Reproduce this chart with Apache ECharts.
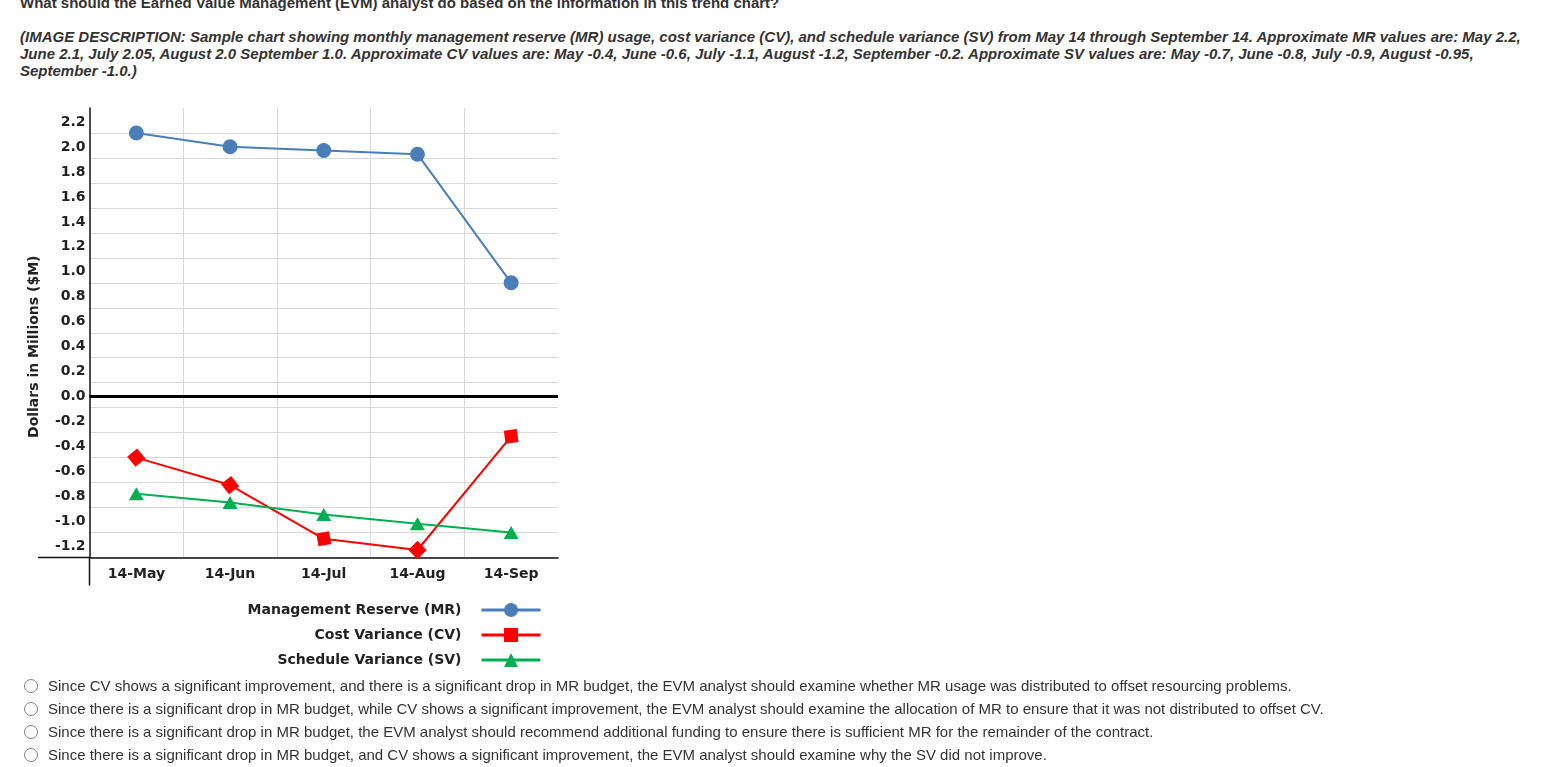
<!DOCTYPE html>
<html>
<head>
<meta charset="utf-8">
<title>EVM trend chart</title>
<script src="https://cdn.jsdelivr.net/npm/echarts@6/dist/echarts.min.js"></script>
<style>
    html, body { margin: 0; padding: 0; background: #fff; }
    body { width: 1561px; height: 767px; position: relative; overflow: hidden;
           font-family: "Liberation Sans", Arial, sans-serif; color: #333; }
    .q { position: absolute; left: 20px; top: -6px; font-size: 15px; line-height: 17px; font-weight: bold; white-space: nowrap; }
    .desc { position: absolute; left: 20px; top: 28px; font-size: 15px; line-height: 17px; font-weight: bold; font-style: italic; white-space: nowrap; }
    #chart { position: absolute; left: 0; top: 95px; width: 600px; height: 590px; }
    .opts { position: absolute; left: 0; top: 674px; }
    .opt { position: relative; height: 23px; line-height: 23px; font-size: 15px; white-space: nowrap; }
    .opt .dot { position: absolute; left: 24px; top: 5px; width: 12px; height: 12px; border: 1px solid #808080; border-radius: 50%; background: #fff; }
    .opt .txt { position: absolute; left: 48px; top: 0; }
</style>
</head>
<body>
<div class="q">What should the Earned Value Management (EVM) analyst do based on the information in this trend chart?</div>
<div class="desc">(IMAGE DESCRIPTION: Sample chart showing monthly management reserve (MR) usage, cost variance (CV), and schedule variance (SV) from May 14 through September 14. Approximate MR values are: May 2.2,<br>June 2.1, July 2.05, August 2.0 September 1.0. Approximate CV values are: May -0.4, June -0.6, July -1.1, August -1.2, September -0.2. Approximate SV values are: May -0.7, June -0.8, July -0.9, August -0.95,<br>September -1.0.)</div>
<div id="chart"></div>
<div class="opts">
    <div class="opt"><span class="dot"></span><span class="txt">Since CV shows a significant improvement, and there is a significant drop in MR budget, the EVM analyst should examine whether MR usage was distributed to offset resourcing problems.</span></div>
    <div class="opt"><span class="dot"></span><span class="txt">Since there is a significant drop in MR budget, while CV shows a significant improvement, the EVM analyst should examine the allocation of MR to ensure that it was not distributed to offset CV.</span></div>
    <div class="opt"><span class="dot"></span><span class="txt">Since there is a significant drop in MR budget, the EVM analyst should recommend additional funding to ensure there is sufficient MR for the remainder of the contract.</span></div>
    <div class="opt"><span class="dot"></span><span class="txt">Since there is a significant drop in MR budget, and CV shows a significant improvement, the EVM analyst should examine why the SV did not improve.</span></div>
</div>
<script>
// data
var months = ['14-May', '14-Jun', '14-Jul', '14-Aug', '14-Sep'];
var mrValues = [2.2, 2.09, 2.06, 2.03, 1.0];
var cvValues = [-0.4, -0.62, -1.05, -1.14, -0.23];
var svValues = [-0.69, -0.76, -0.855, -0.93, -1.0];
var zeroLine = 0.09;   // the heavy black line drawn at the 0.0 label

// marker tilt of the red squares (style only)
var cvTilt = [40, 38, 10, 45, 8];

var FONT = '"DejaVu Sans", Verdana, sans-serif';
var G = { left: 89.5, top: 13, width: 468.5, height: 449.5 };

var chart = echarts.init(document.getElementById('chart'));

var option = {
    animation: false,
    textStyle: { fontFamily: FONT },
    grid: { left: G.left, top: G.top, width: G.width, height: G.height },
    legend: {
        orient: 'vertical',
        align: 'right',
        right: 58,
        top: 508,
        padding: 0,
        itemWidth: 59,
        itemHeight: 17.5,
        itemGap: 11,
        lineStyle: { width: 3 },
        textStyle: { fontFamily: FONT, fontWeight: 'bold', fontSize: 14, color: '#222', padding: [0, 15, 0, 0] },
        data: ['Management Reserve (MR)', 'Cost Variance (CV)', 'Schedule Variance (SV)']
    },
    xAxis: {
        type: 'category',
        data: months,
        boundaryGap: true,
        axisLine: { onZero: false, lineStyle: { color: '#111', width: 1.5 } },
        axisTick: { show: false },
        axisLabel: { color: '#222', fontFamily: FONT, fontWeight: 'bold', fontSize: 14, margin: 10 },
        splitLine: { show: true, showMinLine: false, showMaxLine: false, lineStyle: { color: '#d9d9d9', width: 1 } }
    },
    yAxis: {
        type: 'value',
        min: -1.2,
        max: 2.4,
        interval: 0.2,
        name: 'Dollars in Millions ($M)',
        nameLocation: 'middle',
        nameGap: 48,
        nameTextStyle: { fontFamily: FONT, fontWeight: 'bold', fontSize: 14, color: '#222', padding: [0, 28, 0, 0] },
        axisLine: { show: true, lineStyle: { color: '#111', width: 1.5 } },
        axisTick: { show: false },
        axisLabel: {
            showMaxLabel: false,
            color: '#222', fontFamily: FONT, fontWeight: 'bold', fontSize: 14, margin: 4,
            // labels sit a little above their grid lines in the original
            verticalAlign: 'bottom',
            lineHeight: 22,
            formatter: function (v) {
                if (Math.abs(v) < 1e-9) return '0.0';
                return v.toFixed(1);
            }
        },
        splitLine: { show: true, showMaxLine: false, lineStyle: { color: '#d9d9d9', width: 1 } }
    },
    series: [
        {
            name: 'Management Reserve (MR)',
            type: 'line',
            data: mrValues,
            symbol: 'circle',
            symbolSize: 15,
            lineStyle: { color: '#4a7ebb', width: 2 },
            itemStyle: { color: '#4a7ebb' },
            z: 3,
            markLine: {
                silent: true,
                symbol: 'none',
                label: { show: false },
                lineStyle: { color: '#000', width: 3, type: 'solid' },
                data: [{ yAxis: zeroLine }]
            }
        },
        {
            name: 'Cost Variance (CV)',
            type: 'line',
            data: cvValues.map(function (v, i) { return { value: v, symbolRotate: cvTilt[i] }; }),
            symbol: 'rect',
            symbolSize: 13,
            lineStyle: { color: '#ff0000', width: 2 },
            itemStyle: { color: '#ff0000' },
            z: 4
        },
        {
            name: 'Schedule Variance (SV)',
            type: 'line',
            data: svValues,
            symbol: 'triangle',
            symbolSize: [15, 13],
            lineStyle: { color: '#00b050', width: 2 },
            itemStyle: { color: '#00b050' },
            z: 4
        }
    ],
    graphic: [
        // the axis lines run past each other at the lower left corner
        { type: 'line', silent: true, shape: { x1: 38, y1: G.top + G.height, x2: G.left, y2: G.top + G.height },
          style: { stroke: '#111', lineWidth: 1.5 } },
        { type: 'line', silent: true, shape: { x1: G.left, y1: G.top + G.height, x2: G.left, y2: G.top + G.height + 28 },
          style: { stroke: '#111', lineWidth: 1.5 } }
    ]
};

chart.setOption(option);
</script>
</body>
</html>
